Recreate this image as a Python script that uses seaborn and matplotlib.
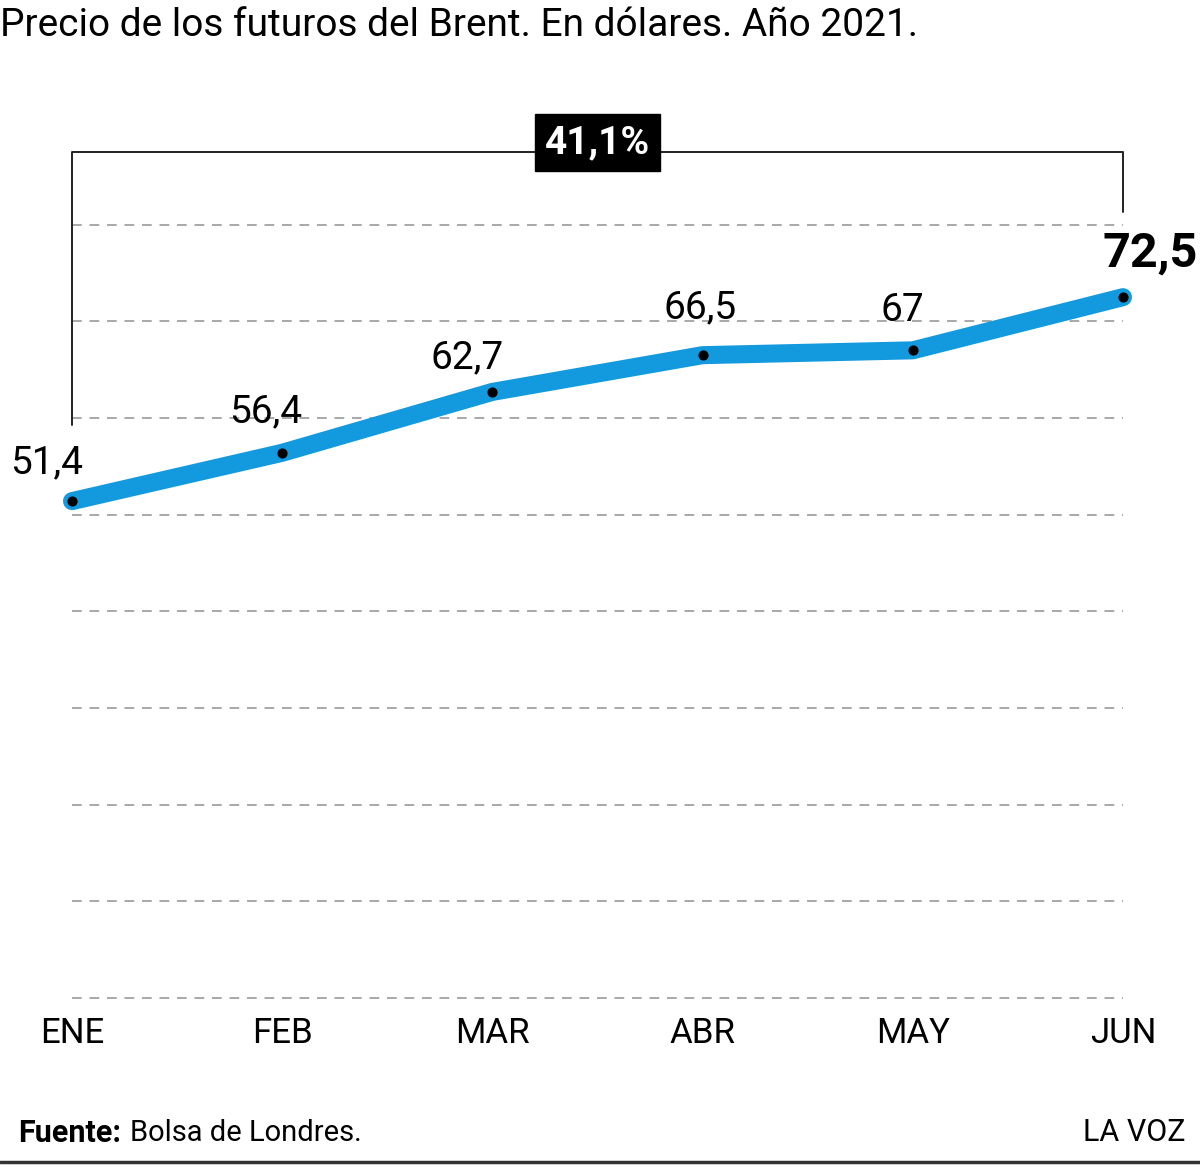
import matplotlib.pyplot as plt
import seaborn as sns
import pandas as pd

months = ["ENE", "FEB", "MAR", "ABR", "MAY", "JUN"]
prices = [51.4, 56.4, 62.7, 66.5, 67.0, 72.5]
price_labels = ["51,4", "56,4", "62,7", "66,5", "67", "72,5"]
grid_values = [0, 10, 20, 30, 40, 50, 60, 70, 80]
change_label = "41,1%"

FONT = ["Liberation Sans Narrow", "Roboto", "DejaVu Sans"]
BLUE = "#139ade"


def draw_chart() -> None:
    sns.set_style("white")
    plt.rcParams["font.family"] = FONT
    plt.rcParams["text.color"] = "black"
    plt.rcParams["xtick.color"] = "black"
    df = pd.DataFrame({"x": range(len(months)), "price": prices})

    fig = plt.figure(figsize=(12, 11.69), dpi=100)
    ax = fig.add_axes([0.06, 0.1463, 0.8758, 0.7442])
    ax.set_xlim(0, len(months) - 1)
    ax.set_ylim(0, 90)

    # dashed guides
    for v in grid_values:
        ax.plot([0, len(months) - 1], [v, v], color="#a8a8a8", lw=1.4,
                ls=(0, (5, 4)), zorder=1, clip_on=False)

    sns.lineplot(data=df, x="x", y="price", ax=ax, color=BLUE, lw=13,
                 zorder=3)
    line = ax.lines[-1]
    line.set_solid_capstyle("round")
    line.set_solid_joinstyle("round")
    line.set_clip_on(False)
    ax.scatter(df["x"], df["price"], s=40, color="black", zorder=4,
               clip_on=False)

    offsets = [(-0.12, 4.0), (-0.08, 4.2), (-0.12, 3.5), (-0.01, 4.9),
               (-0.05, 4.1), (0.13, 4.5)]
    for i, (lab, (dx, dy)) in enumerate(zip(price_labels, offsets)):
        last = i == len(months) - 1
        ax.text(i + dx, prices[i] + dy, lab, ha="center", va="center",
                fontsize=35 if last else 28,
                fontweight="bold" if last else "normal", zorder=5)

    # bracket for the change
    ax.plot([0, 0, 5, 5], [59.3, 87.5, 87.5, 81.3], color="#222222",
            lw=1.4, zorder=2, clip_on=False)
    ax.text(2.5, 88.5, change_label, ha="center", va="center", fontsize=28,
            fontweight="bold", color="white", zorder=6,
            bbox=dict(boxstyle="square,pad=0.25", fc="black", ec="black"))

    ax.set_xticks(range(len(months)))
    ax.set_xticklabels(months, fontsize=25)
    ax.tick_params(axis="x", length=0, pad=14)
    ax.set_yticks([])
    ax.set_xlabel("")
    ax.set_ylabel("")
    sns.despine(ax=ax, left=True, bottom=True)

    fig.text(0.0, 0.978, "Precio de los futuros del Brent. En dólares. "
             "Año 2021.", ha="left", va="center", fontsize=28)
    fig.text(0.015, 0.031, "Fuente:", ha="left", va="center",
             fontsize=22, fontweight="bold")
    fig.text(0.108, 0.031, "Bolsa de Londres.", ha="left", va="center",
             fontsize=21)
    fig.text(0.988, 0.031, "LA VOZ", ha="right", va="center", fontsize=22)
    fig.add_artist(plt.Line2D([0, 1], [0.006, 0.006], color="#333333",
                              lw=2.5))

    fig.savefig("out.png", dpi=100)


if __name__ == "__main__":
    draw_chart()
